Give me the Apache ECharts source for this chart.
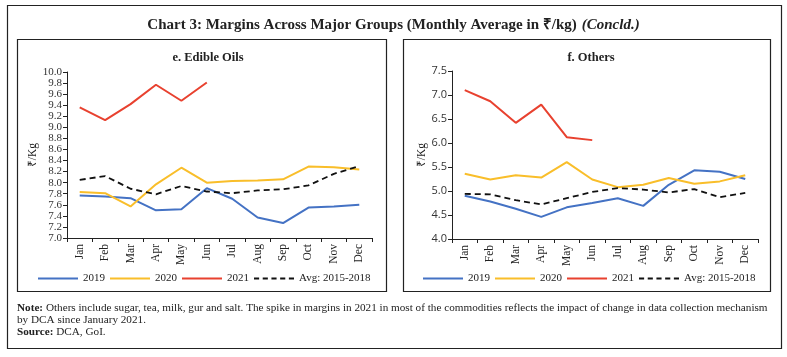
<!DOCTYPE html>
<html><head><meta charset="utf-8">
<script src="https://cdn.jsdelivr.net/npm/echarts@6/dist/echarts.min.js"></script>
<style>html,body{margin:0;padding:0;background:#fff}#c{width:787px;height:357px}</style>
</head><body><div id="c"></div>
<script>
var months = ['Jan','Feb','Mar','Apr','May','Jun','Jul','Aug','Sep','Oct','Nov','Dec'];
var seriesNames = ['2019','2020','2021','Avg: 2015-2018'];
// e. Edible Oils
var oils2019 = [7.77,7.75,7.72,7.50,7.52,7.90,7.71,7.37,7.27,7.55,7.57,7.60];
var oils2020 = [7.83,7.81,7.57,7.97,8.27,8.00,8.03,8.04,8.06,8.29,8.28,8.24];
var oils2021 = [9.36,9.13,9.42,9.77,9.48,9.81];
var oilsAvg  = [8.05,8.12,7.89,7.79,7.94,7.84,7.81,7.86,7.88,7.95,8.16,8.30];
// f. Others
var oth2019 = [4.90,4.78,4.63,4.46,4.66,4.75,4.85,4.69,5.13,5.43,5.40,5.25];
var oth2020 = [5.36,5.24,5.33,5.28,5.60,5.24,5.08,5.13,5.27,5.15,5.20,5.33];
var oth2021 = [7.10,6.87,6.42,6.80,6.12,6.06];
var othAvg  = [4.94,4.93,4.81,4.72,4.85,4.98,5.06,5.03,4.97,5.04,4.87,4.96];

var colors = ['#4472C4','#F9BE2A','#E8412F','#111111'];
var serif = 'Liberation Serif';
var chart = echarts.init(document.getElementById('c'), null, {renderer:'canvas'});

function xAxis(g){
  return {type:'category', gridIndex:g, data:months, boundaryGap:true,
    axisLine:{lineStyle:{color:'#222',width:1}},
    axisTick:{show:true, alignWithLabel:false, length:4, lineStyle:{color:'#222'}},
    axisLabel:{rotate:90, interval:0, fontFamily:serif, fontSize:11.5, color:'#222', margin:6}};
}
function yAxis(g,min,max,step,font){
  return {type:'value', gridIndex:g, min:min, max:max, interval:step,
    name:'₹/Kg', nameLocation:'middle', nameGap:21, nameRotate:90,
    nameTextStyle:{fontFamily:serif, fontSize:11.5, color:'#222'},
    axisLine:{show:true, lineStyle:{color:'#222',width:1}},
    axisTick:{show:true, length:4, lineStyle:{color:'#222'}},
    splitLine:{show:false},
    axisLabel:{fontFamily:font, fontSize:11, color:'#333', margin:5,
      formatter:function(v){return v.toFixed(1);}}};
}
function line(name,data,ax,idx){
  var ls = {color:colors[idx], width:2};
  if(idx===3){ ls.type=[6,4]; ls.width=1.8; }
  return {name:name, type:'line', xAxisIndex:ax, yAxisIndex:ax, data:data,
    symbol:'none', showSymbol:false, lineStyle:ls, itemStyle:{color:colors[idx]}, animation:false};
}
var dashIcon = 'path://M0,0h5v2h-5z M8.5,0h5v2h-5z M17,0h5v2h-5z M25.5,0h5v2h-5z M34,0h5v2h-5z';
function legend(left){
  return {left:left, top:268, itemWidth:40, itemHeight:2.2, itemGap:5,
    data:[{name:'2019',icon:'rect'},{name:'2020',icon:'rect'},{name:'2021',icon:'rect'},{name:'Avg: 2015-2018',icon:dashIcon}],
    textStyle:{fontFamily:serif, fontSize:11, color:'#222'}, selectedMode:false};
}

chart.setOption({
  animation:false,
  title:[
    {text:'{b|Chart 3: Margins Across Major Groups (Monthly Average in ₹/kg)} {i|(Concld.)}', left:'center', top:11,
     textStyle:{rich:{b:{fontFamily:serif, fontSize:15, fontWeight:'bold', color:'#222'},
                      i:{fontFamily:serif, fontSize:15, fontStyle:'italic', color:'#222'}}}},
    {text:'e. Edible Oils', left:203, top:46, textAlign:'center',
     textStyle:{fontFamily:serif, fontSize:12.5, fontWeight:'bold', color:'#222'}},
    {text:'f. Others', left:586, top:46, textAlign:'center',
     textStyle:{fontFamily:serif, fontSize:12.5, fontWeight:'bold', color:'#222'}}
  ],
  legend:[legend(33), legend(418)],
  grid:[
    {left:67, right:415, top:72, bottom:119},
    {left:452, right:29, top:71, bottom:118}
  ],
  xAxis:[xAxis(0), xAxis(1)],
  yAxis:[yAxis(0,7,10,0.2,serif), yAxis(1,4,7.5,0.5,'Open Sans')],
  series:[
    line('2019',oils2019,0,0), line('2020',oils2020,0,1), line('2021',oils2021,0,2), line('Avg: 2015-2018',oilsAvg,0,3),
    line('2019',oth2019,1,0), line('2020',oth2020,1,1), line('2021',oth2021,1,2), line('Avg: 2015-2018',othAvg,1,3)
  ],
  graphic:[
    {type:'rect', shape:{x:7.5,y:5.5,width:774,height:343}, style:{fill:null, stroke:'#222', lineWidth:1.2}, silent:true},
    {type:'rect', shape:{x:17.5,y:39.5,width:369,height:252}, style:{fill:null, stroke:'#222', lineWidth:1.2}, silent:true},
    {type:'rect', shape:{x:403.5,y:39.5,width:367,height:252}, style:{fill:null, stroke:'#222', lineWidth:1.2}, silent:true},
    {type:'text', left:17, top:303, style:{text:'{b|Note:} Others include sugar, tea, milk, gur and salt. The spike in margins in 2021 in most of the commodities reflects the impact of change in data collection mechanism',
      rich:{b:{fontFamily:serif, fontSize:11.2, fontWeight:'bold', fill:'#222'}}, font:'11.2px "Liberation Serif"', fill:'#222'}},
    {type:'text', left:17, top:315, style:{text:'by DCA since January 2021.', font:'11.2px "Liberation Serif"', fill:'#222'}},
    {type:'text', left:17, top:327, style:{text:'{b|Source:} DCA, GoI.',
      rich:{b:{fontFamily:serif, fontSize:11.2, fontWeight:'bold', fill:'#222'}}, font:'11.2px "Liberation Serif"', fill:'#222'}}
  ]
});
</script></body></html>
